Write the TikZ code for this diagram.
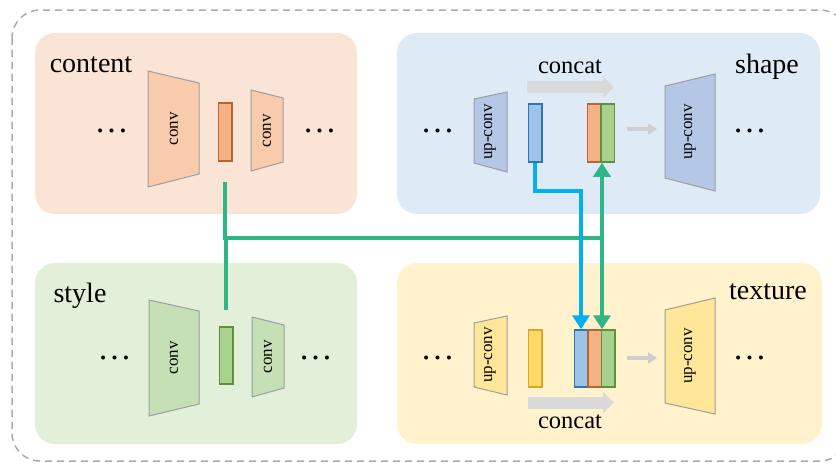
\documentclass[tikz,border=0pt]{standalone}
\usepackage{fontspec}
\setmainfont{Liberation Serif}
\usetikzlibrary{arrows.meta,calc}
\definecolor{cbg}{HTML}{FAE4D6}
\definecolor{cconv}{HTML}{F8CBAD}
\definecolor{obar}{HTML}{F4B183}
\definecolor{obarD}{HTML}{B8652F}
\definecolor{sbg}{HTML}{DEEBF7}
\definecolor{sconv}{HTML}{B4C7E7}
\definecolor{bbar}{HTML}{9DC3E6}
\definecolor{bbarD}{HTML}{2E75B6}
\definecolor{gbg}{HTML}{E2F0D9}
\definecolor{gconv}{HTML}{C5E0B4}
\definecolor{gbar}{HTML}{A9D18E}
\definecolor{gbarD}{HTML}{5E9040}
\definecolor{tbg}{HTML}{FFF2CC}
\definecolor{tconv}{HTML}{FFE699}
\definecolor{ybar}{HTML}{FFD966}
\definecolor{ybarD}{HTML}{D6A92A}
\definecolor{trapgray}{HTML}{9E9E9E}
\definecolor{lgreen}{HTML}{30B584}
\definecolor{lblue}{HTML}{00B0F0}
\definecolor{cgray}{HTML}{D9D9D9}
\definecolor{sgray}{HTML}{D0CECE}
\definecolor{dashgray}{HTML}{AAAAAA}
\tikzset{
  panel/.style={rounded corners=20pt},
  trap/.style={draw=trapgray, line width=1pt},
  bar/.style={draw, line width=1.5pt, minimum width=13.5pt, minimum height=58pt, inner sep=0pt},
  lbl/.style={font=\fontsize{28}{30}\selectfont, inner sep=0pt, anchor=base},
  cclbl/.style={font=\fontsize{24.5}{26}\selectfont, inner sep=0pt, anchor=base},
  dotsnode/.style={font=\fontsize{34}{36}\selectfont, inner sep=0pt},
  rot/.style={rotate=90, font=\fontsize{17}{18}\selectfont, inner sep=0pt},
  gline/.style={draw=lgreen, line width=4.5pt},
  bline/.style={draw=lblue, line width=4.5pt},
  tipc/.style={-{Triangle[width=17pt,length=14pt]}},
  concatarrow/.style={draw=cgray, line width=12pt, -{Triangle[width=21pt,length=11pt]}},
  smallarrow/.style={draw=sgray, line width=3.5pt, -{Triangle[width=11pt,length=9pt]}},
}
\begin{document}
\begin{tikzpicture}[x=1pt,y=-1pt]
\useasboundingbox (0,0) rectangle (836,467);
\clip (0,0) rectangle (836,467);
% outer dashed frame
\draw[dashgray, line width=1.5pt, dash pattern=on 7pt off 5pt, rounded corners=28pt] (12,10) rectangle (848,461);

% panels
\fill[cbg, panel] (35,33) rectangle (357,214);
\fill[sbg, panel] (397,33) rectangle (820,214);
\fill[gbg, panel] (35,263) rectangle (357,444);
\fill[tbg, panel] (397,263) rectangle (822,444);

% panel labels
\node[lbl] (lcontent) at (91,72) {content};
\node[lbl] (lstyle) at (80,302) {style};
\node[lbl] (lshape) at (767,73) {shape};
\node[lbl] (ltexture) at (768,299) {texture};

% ---- content ----
\node[dotsnode] (cd1) at (111.5,131) {…};
\draw[trap, fill=cconv] (148,71) -- (199,83) -- (199,174) -- (148,187) -- cycle;
\node[rot] (cconv1) at (174,129) {conv};
\node[bar, fill=obar, draw=obarD] (cbar) at (225,132) {};
\draw[trap, fill=cconv] (251,90) -- (283,98) -- (283,162) -- (251,171) -- cycle;
\node[rot] (cconv2) at (267,131) {conv};
\node[dotsnode] (cd2) at (319.5,131) {…};

% ---- style ----
\node[dotsnode] (gd1) at (114.5,358) {…};
\draw[trap, fill=gconv] (149,300) -- (199,311) -- (199,404) -- (149,416) -- cycle;
\node[rot] (gconv1) at (174,358) {conv};
\node[bar, fill=gbar, draw=gbarD, minimum height=57pt] (stbar) at (226,355.5) {};
\draw[trap, fill=gconv] (252,317) -- (284,325) -- (284,388) -- (252,397) -- cycle;
\node[rot] (gconv2) at (268,357) {conv};
\node[dotsnode] (gd2) at (315.5,358) {…};

% ---- shape ----
\node[dotsnode] (sd1) at (437.5,131) {…};
\draw[trap, fill=sconv] (474,99) -- (507,92) -- (507,172) -- (474,163) -- cycle;
\node[rot] (sconv1) at (490,132) {up-conv};
\node[bar, fill=bbar, draw=bbarD] (sblue) at (535,133) {};
\node[bar, fill=obar, draw=obarD] (sorange) at (594,133) {};
\node[bar, fill=gbar, draw=gbarD] (sgreen) at (607.5,133) {};
\coordinate (sca1) at (527,87);
\coordinate (sca2) at (614,87);
\draw[concatarrow] (sca1) -- (sca2);
\node[cclbl] (scat) at (570,73) {concat};
\coordinate (ssa1) at (627,129);
\coordinate (ssa2) at (657,129);
\draw[smallarrow] (ssa1) -- (ssa2);
\draw[trap, fill=sconv] (665,86) -- (715,74) -- (715,191) -- (665,178) -- cycle;
\node[rot] (sconv2) at (690,132) {up-conv};
\node[dotsnode] (sd2) at (749.5,131) {…};

% ---- texture ----
\node[dotsnode] (td1) at (437.5,358) {…};
\draw[trap, fill=tconv] (474,323) -- (507,316) -- (507,395) -- (474,387) -- cycle;
\node[rot] (tconv1) at (490,355) {up-conv};
\node[bar, fill=ybar, draw=ybarD, minimum height=57pt] (tyellow) at (535,358.5) {};
\node[bar, fill=bbar, draw=bbarD, minimum height=57pt] (tblue) at (581,358.5) {};
\node[bar, fill=obar, draw=obarD, minimum height=57pt] (torange) at (594.5,358.5) {};
\node[bar, fill=gbar, draw=gbarD, minimum height=57pt] (tgreen) at (608,358.5) {};
\coordinate (tca1) at (528,402.5);
\coordinate (tca2) at (614,402.5);
\draw[concatarrow] (tca1) -- (tca2);
\node[cclbl] (tcat) at (570,428) {concat};
\coordinate (tsa1) at (627,358);
\coordinate (tsa2) at (657,358);
\draw[smallarrow] (tsa1) -- (tsa2);
\draw[trap, fill=tconv] (665,310) -- (715,298) -- (715,414) -- (665,403) -- cycle;
\node[rot] (tconv2) at (690,356) {up-conv};
\node[dotsnode] (td2) at (749.5,358) {…};

% ---- connectors ----
\coordinate (gjoint) at (602,238);
\draw[gline] ($(cbar.south)+(0,20)$) |- (gjoint);
\draw[gline] ($(stbar.north)+(0,-16)$) -- (stbar.north |- gjoint);
\draw[gline, tipc] (gjoint) -- (gjoint |- sgreen.south);
\draw[gline, tipc] (gjoint) -- (gjoint |- tgreen.north);
\draw[bline, tipc] (sblue.south) -- ++(0,28) -| (tblue.north);
\end{tikzpicture}
\end{document}
